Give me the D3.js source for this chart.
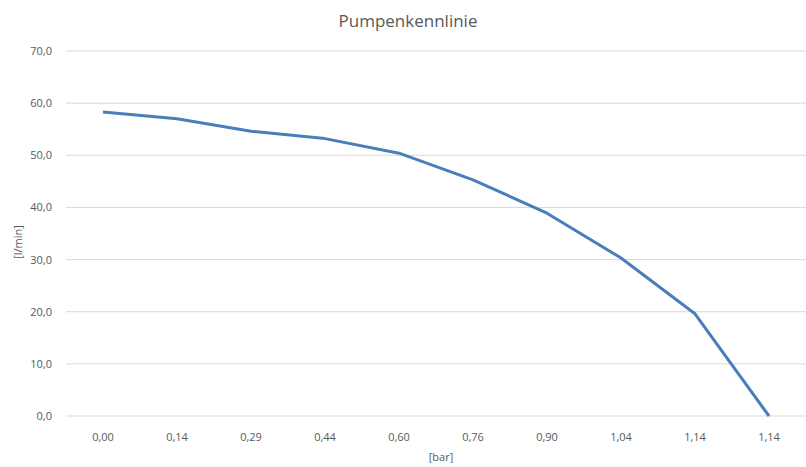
<!DOCTYPE html>
<html>
<head>
<meta charset="utf-8">
<script src="https://cdn.jsdelivr.net/npm/d3@7"></script>
<style>
  body { margin: 0; background: #fff; }
  text { font-family: "Open Sans", "Liberation Sans", sans-serif; fill: #595959; }
</style>
</head>
<body>
<div id="canvas"></div>
<script>
// pump curve values
const pressureLabels = ["0,00", "0,14", "0,29", "0,44", "0,60", "0,76", "0,90", "1,04", "1,14", "1,14"];
const flowValues = [58.3, 57.0, 54.6, 53.2, 50.4, 45.3, 38.9, 30.3, 19.6, 0.0];
const yTicks = [0, 10, 20, 30, 40, 50, 60, 70];

const width = 806, height = 467;
const margin = { top: 51, right: 0, bottom: 51, left: 66 };

const svg = d3.select('#canvas').append('svg')
    .attr('width', width)
    .attr('height', height);

// category index so duplicate labels stay separate
const x = d3.scaleBand()
    .domain(d3.range(pressureLabels.length))
    .range([margin.left, width - margin.right]);

const y = d3.scaleLinear()
    .domain([0, 70])
    .range([height - margin.bottom, margin.top]);

// gridlines
svg.append('g')
    .selectAll('line')
    .data(yTicks)
    .enter()
    .append('line')
    .attr('x1', margin.left)
    .attr('x2', width - margin.right)
    .attr('y1', function (d) { return y(d); })
    .attr('y2', function (d) { return y(d); })
    .attr('stroke', '#d9d9d9')
    .attr('stroke-width', 1);

// y axis labels
const yAxis = svg.append('g')
    .attr('transform', 'translate(' + (margin.left - 11) + ',0)')
    .call(d3.axisLeft(y).tickValues(yTicks).tickSize(0)
        .tickFormat(function (d) { return d3.format('.1f')(d).replace('.', ','); }));
yAxis.select('.domain').remove();
yAxis.selectAll('text').style('font-size', '11px').attr('fill', '#595959');

// x axis labels
const xAxis = svg.append('g')
    .attr('transform', 'translate(0,' + (height - margin.bottom + 14) + ')')
    .call(d3.axisBottom(x).tickSize(0)
        .tickFormat(function (i) { return pressureLabels[i]; }));
xAxis.select('.domain').remove();
xAxis.selectAll('text').style('font-size', '11px').attr('fill', '#595959');

// the curve
const line = d3.line()
    .x(function (d, i) { return x(i) + x.bandwidth() / 2; })
    .y(function (d) { return y(d); });

svg.append('path')
    .datum(flowValues)
    .attr('d', line)
    .attr('fill', 'none')
    .attr('stroke', '#4a7ebb')
    .attr('stroke-width', 3)
    .attr('stroke-linejoin', 'round');

// titles
svg.append('text')
    .attr('x', 408)
    .attr('y', 27)
    .attr('text-anchor', 'middle')
    .style('font-size', '17px')
    .text('Pumpenkennlinie');

svg.append('text')
    .attr('x', 441)
    .attr('y', 461)
    .attr('text-anchor', 'middle')
    .style('font-size', '11px')
    .text('[bar]');

svg.append('text')
    .attr('transform', 'translate(22,242) rotate(-90)')
    .attr('text-anchor', 'middle')
    .style('font-size', '11px')
    .text('[l/min]');
</script>
</body>
</html>
